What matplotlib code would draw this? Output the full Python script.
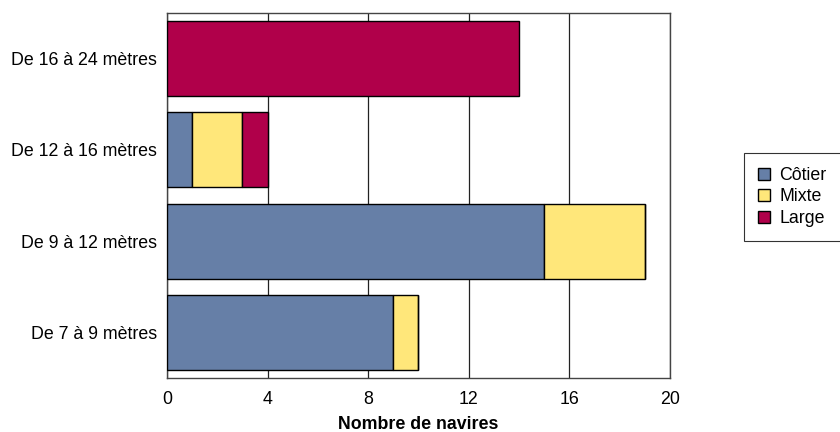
import matplotlib.pyplot as plt
import numpy as np

plt.rcParams['font.family'] = ['Liberation Sans', 'DejaVu Sans']

categories = ['De 7 à 9 mètres', 'De 9 à 12 mètres', 'De 12 à 16 mètres', 'De 16 à 24 mètres']
cotier = [9, 15, 1, 0]
mixte = [1, 4, 2, 0]
large = [0, 0, 1, 14]
series_names = ['Côtier', 'Mixte', 'Large']
colors = ['#667fa7', '#ffe77a', '#b0004a']

fig = plt.figure(figsize=(8.4, 4.32), dpi=100)
ax = fig.add_axes([0.1988, 0.125, 0.5988, 0.845])

y = np.arange(len(categories))
left = np.zeros(len(categories))
for vals, name, col in zip([cotier, mixte, large], series_names, colors):
    ax.barh(y, vals, left=left, height=0.82, color=col, edgecolor='black',
            linewidth=1, label=name, zorder=3)
    left += np.array(vals)

ax.set_xlim(0, 20)
ax.set_ylim(-0.5, 3.5)
ax.set_xticks([0, 4, 8, 12, 16, 20])
ax.set_yticks(y)
ax.set_yticklabels(categories)
ax.tick_params(axis='both', length=0, labelsize=12.8, pad=7)
ax.tick_params(axis='x', pad=9)
ax.grid(axis='x', color='#222222', linewidth=0.9, zorder=0)
for s in ax.spines.values():
    s.set_color('#444444')
    s.set_linewidth(1)
ax.set_xlabel('Nombre de navires', fontsize=12.8, fontweight='bold', labelpad=6)

leg = ax.legend(loc='upper left', bbox_to_anchor=(1.147, 0.617), fontsize=12.8,
                frameon=True, fancybox=False, shadow=False, borderpad=0.8,
                handlelength=0.65, handleheight=0.65, handletextpad=0.55,
                labelspacing=0.25, borderaxespad=0)
leg.get_frame().set_edgecolor('black')
leg.get_frame().set_linewidth(0.8)

fig.savefig('out.png', dpi=100)
